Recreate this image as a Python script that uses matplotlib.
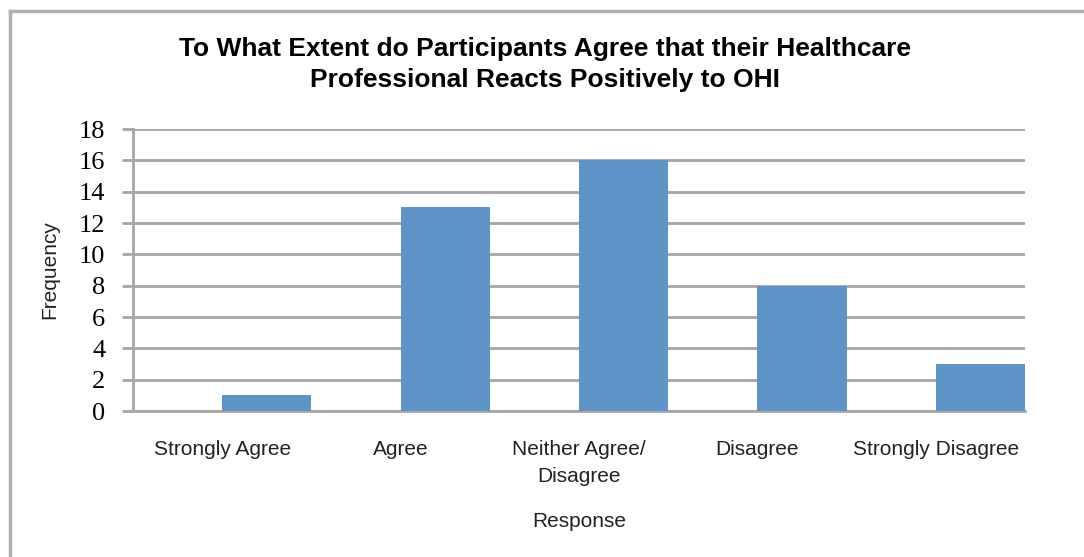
import matplotlib
matplotlib.use("Agg")
import matplotlib.pyplot as plt
from matplotlib.lines import Line2D
import numpy as np

categories = ["Strongly Agree", "Agree", "Neither Agree/\nDisagree", "Disagree", "Strongly Disagree"]
frequency = [1, 13, 16, 8, 3]
y_ticks = [0, 2, 4, 6, 8, 10, 12, 14, 16, 18]

W, H = 1084, 557
fig = plt.figure(figsize=(W / 100, H / 100), dpi=100)
fig.patch.set_facecolor("white")

# plot area in pixel coordinates
left, right, top, bottom = 133, 1025, 129, 411
ax = fig.add_axes([left / W, 1 - bottom / H, (right - left) / W, (bottom - top) / H])

grid_color = "#a6a6a6"
bar_color = "#5f94c9"
text_color = "#222222"

x = np.arange(len(categories))
ax.bar(x + 0.25, frequency, width=0.5, color=bar_color, zorder=3)

ax.set_xlim(-0.5, len(categories) - 0.5)
ax.set_ylim(0, 18)
ax.set_yticks(y_ticks)
ax.set_yticklabels([str(v) for v in y_ticks], family="Liberation Serif", fontsize=19)
ax.yaxis.grid(True, color=grid_color, linewidth=2)
ax.set_axisbelow(True)

ax.set_xticks(x)
ax.set_xticklabels(categories, family="Liberation Sans", fontsize=15, color=text_color,
                   linespacing=1.5)
ax.tick_params(axis="x", length=0, pad=21)
ax.tick_params(axis="y", length=8, width=2, color=grid_color, pad=12)

for s in ["top", "right"]:
    ax.spines[s].set_visible(False)
ax.spines["left"].set_color(grid_color)
ax.spines["left"].set_linewidth(2)
ax.spines["bottom"].set_color(grid_color)
ax.spines["bottom"].set_linewidth(2)

ax.set_ylabel("Frequency", family="Liberation Sans", fontsize=15, color=text_color, labelpad=14)
ax.set_xlabel("Response", family="Liberation Sans", fontsize=15, color=text_color, labelpad=19)

fig.text(545 / W, 1 - 64.5 / H,
         "To What Extent do Participants Agree that their Healthcare\nProfessional Reacts Positively to OHI",
         ha="center", va="center", family="Liberation Sans", weight="bold", fontsize=19,
         linespacing=1.42)

# outer chart frame
frame_color = "#b0b0b0"
fig.add_artist(Line2D([10 / W, 1.0], [1 - 11 / H, 1 - 11 / H], color=frame_color, linewidth=2.5,
                      transform=fig.transFigure))
fig.add_artist(Line2D([10 / W, 10 / W], [0.0, 1 - 11 / H], color=frame_color, linewidth=2.5,
                      transform=fig.transFigure))

fig.savefig("out.png", dpi=100)
